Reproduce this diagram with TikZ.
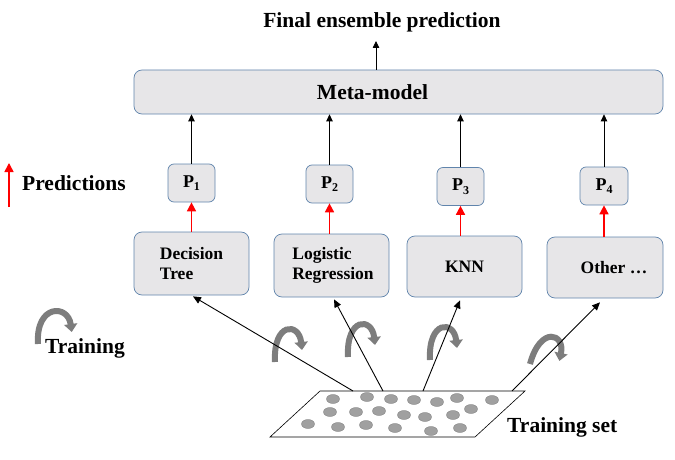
\documentclass[tikz,border=0pt]{standalone}
\usepackage{fontspec}
\setmainfont{Liberation Serif}
\usetikzlibrary{arrows.meta,calc}
\definecolor{boxgray}{RGB}{231,230,232}
\definecolor{boxblue}{RGB}{96,132,172}
\definecolor{curlgray}{RGB}{125,125,125}
\definecolor{dotgray}{RGB}{160,160,160}
\definecolor{dotedge}{RGB}{135,135,135}
\begin{document}
\begin{tikzpicture}[x=1pt,y=-1pt,
  box/.style={draw=boxblue,fill=boxgray,rounded corners=8pt,line width=0.7pt,inner sep=0pt},
  pbox/.style={box,rounded corners=6pt,minimum width=47pt,minimum height=38pt,font=\fontsize{18}{18}\selectfont\bfseries},
  mbox/.style={box,minimum width=115pt,minimum height=62pt,align=left,font=\fontsize{17.5}{20}\selectfont\bfseries},
  bigtxt/.style={font=\fontsize{21.5}{24}\selectfont\bfseries,inner sep=0pt},
  blkarr/.style={black,line width=0.8pt,-{Triangle[length=7pt,width=6.5pt]}},
  redarr/.style={red,line width=1.6pt,-{Triangle[length=9pt,width=9pt]}},
  trainarr/.style={black,line width=0.9pt,-{Triangle[length=8pt,width=7pt]}},
  dot/.style={fill=dotgray,draw=dotedge,line width=0.4pt},
  curl/.pic={\draw[curlgray,line width=6pt,-{Triangle[length=8pt,width=13pt]}] (0,0) .. controls (-2,-40) and (24,-40) .. (27,-12);}
]
\useasboundingbox (0,0) rectangle (675,460);

% meta-model
\node[box,minimum width=529pt,minimum height=44pt,
  label={[bigtxt,xshift=-26pt]center:Meta-model}] (meta) at (398.5,92) {};
\node[bigtxt,anchor=base] (final) at (382,28) {Final ensemble prediction};
\coordinate (fin) at (376,41);
\draw[blkarr] (meta.north -| fin) -- (fin);

% prediction boxes
\newcommand{\psub}[1]{P\raisebox{-3.5pt}{\fontsize{12}{12}\selectfont #1}}
\node[pbox] (p1) at (191.5,183) {\psub{1}};
\node[pbox] (p2) at (329.5,184) {\psub{2}};
\node[pbox] (p3) at (460.5,186.5) {\psub{3}};
\node[pbox,minimum width=48pt] (p4) at (604,186) {\psub{4}};

% model boxes
\node[mbox,minimum height=63pt] (dt) at (191.5,263.5) {Decision\\Tree};
\node[mbox,minimum height=63pt] (lr) at (331.5,265.5) {\hspace*{3pt}Logistic\\\hspace*{3pt}Regression};
\node[mbox,minimum height=61pt] (knn) at (464.5,266.5) {KNN};
\node[mbox,minimum width=116pt,minimum height=61pt] (oth) at (605,267.5) {\hspace*{18pt}Other \dots};

% arrows P -> meta
\foreach \p in {p1,p2,p3,p4}
  \draw[blkarr] (\p.north) -- (\p.north |- meta.south);

% red arrows model -> P
\draw[redarr] (p1.south |- dt.north) -- (p1.south);
\draw[redarr] (p2.south |- lr.north) -- (p2.south);
\draw[redarr] (p3.south |- knn.north) -- (p3.south);
\draw[redarr] (p4.south |- oth.north) -- (p4.south);

% legend
\coordinate (lgA) at (9,207);
\coordinate (lgB) at (9,163);
\draw[redarr] (lgA) -- (lgB);
\node[bigtxt,anchor=base west] (predtxt) at (22,190) {Predictions};
\pic at (38,344) [xscale=1.25] {curl};
\node[bigtxt,anchor=base west] (traintxt) at (45,353) {Training};

% curl icons (behind the lines)
\pic at (275,362) {curl};
\pic at (348,357) {curl};
\pic at (430,360) {curl};
\pic at (530,364) [rotate=-18] {curl};

% training set
\coordinate (TL) at (320,391);
\coordinate (TR) at (525,391);
\coordinate (BR) at (475,437);
\coordinate (BL) at (270,437);
\draw[fill=white,line width=0.6pt] (TL) -- (TR) -- (BR) -- (BL) -- cycle;
\foreach \x/\y in {333/399,367/397,391/399,414/400,437/402,457/398,492/400,
                   330/412,356/412,379/411,404/415,425/417,453/415,471/409,
                   308/424,338/427,366/425,395/428,431/431,460/428}
  \draw[dot] (\x,\y) ellipse [x radius=6.5pt,y radius=4.5pt];
\node[bigtxt,anchor=base west] (tstxt) at (507,432) {Training set};

\coordinate (s1) at (353,391);
\coordinate (s2) at (383,391);
\coordinate (s3) at (423,391);
\coordinate (s4) at (512,391);
\draw[trainarr] (s1) -- ($(dt.south)+(1.5,1)$);
\draw[trainarr] (s2) -- ($(lr.south)+(2.5,2)$);
\draw[trainarr] (s3) -- ($(knn.south)+(-4.5,3)$);
\draw[trainarr] (s4) -- ($(oth.south)+(-5,4)$);
\end{tikzpicture}
\end{document}
